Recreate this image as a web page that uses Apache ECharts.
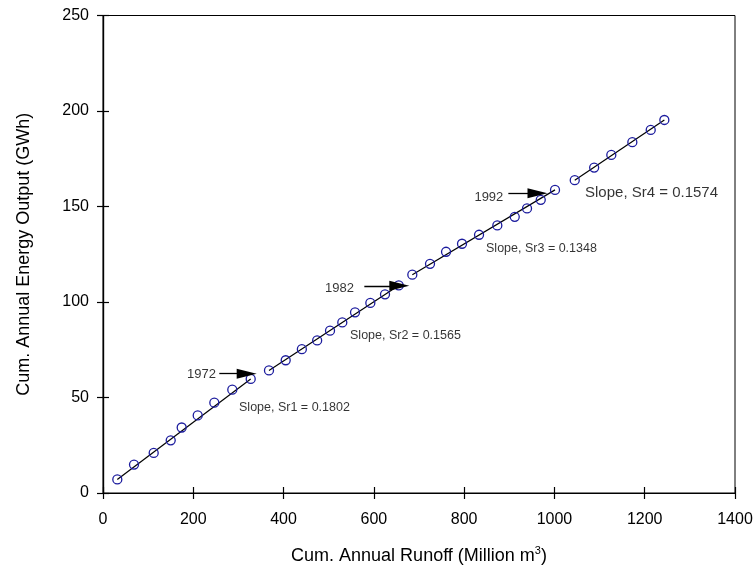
<!DOCTYPE html>
<html>
<head>
<meta charset="utf-8">
<title>Cumulative energy vs runoff</title>
<script src="https://cdn.jsdelivr.net/npm/echarts@6/dist/echarts.min.js"></script>
<style>
  html, body { margin: 0; padding: 0; background: #ffffff; }
  #chart { width: 756px; height: 572px; }
</style>
</head>
<body>
<div id="chart"></div>
<script>
// Double-mass curve: cumulative annual runoff (x) vs cumulative energy output (y),
// split into four periods separated at 1972, 1982 and 1992.
const runoff1964to1972 = [31.7, 68.7, 112.3, 150.0, 174.3, 209.8, 246.6, 286.4, 327.2];
const energy1964to1972 = [7.1, 14.9, 21.0, 27.6, 34.3, 40.6, 47.3, 54.1, 59.7];

const runoff1973to1982 = [367.7, 404.7, 440.5, 474.4, 502.9, 530.1, 558.3, 592.2, 624.7, 655.1];
const energy1973to1982 = [64.2, 69.5, 75.3, 79.9, 85.0, 89.3, 94.6, 99.5, 104.0, 108.7];

const runoff1983to1992 = [685.2, 724.4, 759.9, 795.3, 833.0, 873.5, 912.1, 939.3, 969.7, 1001.3];
const energy1983to1992 = [114.3, 120.0, 126.3, 130.5, 135.2, 140.1, 144.6, 149.0, 153.5, 158.7];

const runoff1993to1998 = [1045.0, 1088.0, 1126.0, 1172.6, 1213.3, 1243.5];
const energy1993to1998 = [163.8, 170.4, 177.0, 183.7, 190.1, 195.3];

const xTicks = [0, 200, 400, 600, 800, 1000, 1200, 1400];
const yTicks = [0, 50, 100, 150, 200, 250];

const breakYears = ['1972', '1982', '1992'];
const slopeLabels = ['Slope, Sr1 = 0.1802', 'Slope, Sr2 = 0.1565', 'Slope, Sr3 = 0.1348', 'Slope, Sr4 = 0.1574'];

// Annotation anchors in data units: [tail x, tip x, y] for arrows
const yearLabelAnchors = [[250.3, 62.3], [556.0, 107.0], [886.8, 154.8]];
const arrowSpans = [[257.6, 340.5, 62.5], [578.9, 678.6, 108.5], [897.9, 984.7, 156.9]];
const slopeAnchors = [[301.3, 44.6], [547.2, 82.5], [848.5, 127.9], [1067.8, 157.3]];

const FONT = '"Liberation Sans", Arial, sans-serif';
const MARK = '#1c1c9e';

const GRID = { left: 103, right: 21, top: 15.5, bottom: 78.5 };
const CHART_W = 756;
const HEAD_LEN = 20;   // arrow head length, px
const HEAD_W = 10;     // arrow head width, px
// markLine places the head centred on the end point, so pull the end back by half a head
const xUnitsPerPx = (xTicks[xTicks.length - 1] - xTicks[0]) / (CHART_W - GRID.left - GRID.right);
const headShift = (HEAD_LEN / 2) * xUnitsPerPx;

const periods = [
  { name: '1964-1972', x: runoff1964to1972, y: energy1964to1972 },
  { name: '1973-1982', x: runoff1973to1982, y: energy1973to1982 },
  { name: '1983-1992', x: runoff1983to1992, y: energy1983to1992 },
  { name: '1993-1998', x: runoff1993to1998, y: energy1993to1998 }
];

const series = [];
periods.forEach(p => {
  const pts = p.x.map((v, i) => [v, p.y[i]]);
  // straight line across the period, first point to last point
  series.push({
    type: 'line',
    name: p.name + ' line',
    data: [pts[0], pts[pts.length - 1]],
    showSymbol: false,
    symbol: 'none',
    lineStyle: { color: '#000000', width: 1.2 },
    silent: true,
    z: 2
  });
  // hollow markers: the line stays visible through them
  series.push({
    type: 'scatter',
    name: p.name,
    data: pts,
    symbol: 'circle',
    symbolSize: 9,
    itemStyle: { color: 'rgba(0,0,0,0)', borderColor: MARK, borderWidth: 1.3, opacity: 1 },
    z: 3
  });
});

// Year labels with arrows
series.push({
  type: 'scatter',
  name: 'years',
  data: yearLabelAnchors.map((a, i) => ({ value: a, name: breakYears[i] })),
  symbolSize: 0,
  silent: true,
  label: {
    show: true,
    position: 'left',
    distance: 0,
    formatter: p => p.name,
    fontFamily: FONT,
    fontSize: 13,
    color: '#000000'
  },
  markLine: {
    silent: true,
    symbol: ['none', 'triangle'],
    symbolSize: [HEAD_W, HEAD_LEN],
    label: { show: false },
    lineStyle: { color: '#000000', width: 1.3, type: 'solid' },
    itemStyle: { color: '#000000' },
    emphasis: { disabled: true },
    data: arrowSpans.map(s => [
      { coord: [s[0], s[2]] },
      { coord: [s[1] - headShift, s[2]] }
    ])
  },
  z: 4
});

// Slope labels
series.push({
  type: 'scatter',
  name: 'slopes',
  data: slopeAnchors.map((a, i) => ({
    value: a,
    name: slopeLabels[i],
    label: { fontSize: i === 3 ? 15 : 12.5 }
  })),
  symbolSize: 0,
  silent: true,
  label: {
    show: true,
    position: 'right',
    distance: 0,
    formatter: p => p.name,
    fontFamily: FONT,
    color: '#000000'
  },
  z: 4
});

const tickLabelStyle = { fontFamily: FONT, fontSize: 16, color: '#000000', formatter: v => String(v) };
const axisLineStyle = { show: true, onZero: false, lineStyle: { color: '#000000', width: 1.2 } };

const option = {
  animation: false,
  backgroundColor: '#ffffff',
  grid: Object.assign({ show: true, borderColor: '#000000', borderWidth: 1, containLabel: false }, GRID),
  xAxis: [
    {
      type: 'value', min: xTicks[0], max: xTicks[xTicks.length - 1], interval: xTicks[1] - xTicks[0],
      position: 'bottom',
      axisLine: axisLineStyle,
      axisTick: { inside: false, length: 6, lineStyle: { color: '#000000', width: 1.2 } },
      axisLabel: Object.assign({ margin: 19 }, tickLabelStyle),
      splitLine: { show: false },
      name: 'Cum. Annual Runoff (Million m{sup|3})',
      nameLocation: 'middle',
      nameGap: 52,
      nameTextStyle: {
        fontFamily: FONT, fontSize: 18, color: '#000000', lineHeight: 22,
        rich: { sup: { fontFamily: FONT, fontSize: 11, verticalAlign: 'top', lineHeight: 22 } }
      }
    },
    {
      // second bottom axis carries the inward half of each tick
      type: 'value', min: xTicks[0], max: xTicks[xTicks.length - 1], interval: xTicks[1] - xTicks[0],
      position: 'bottom',
      offset: 0,
      axisLine: axisLineStyle,
      axisTick: { show: true, inside: true, length: 6, lineStyle: { color: '#000000', width: 1.2 } },
      axisLabel: { show: false },
      splitLine: { show: false }
    }
  ],
  yAxis: [
    {
      type: 'value', min: yTicks[0], max: yTicks[yTicks.length - 1], interval: yTicks[1] - yTicks[0],
      position: 'left',
      axisLine: axisLineStyle,
      axisTick: { show: true, inside: false, length: 6, lineStyle: { color: '#000000', width: 1.2 } },
      axisLabel: Object.assign({ margin: 14 }, tickLabelStyle),
      splitLine: { show: false },
      name: 'Cum. Annual Energy Output (GWh)',
      nameLocation: 'middle',
      nameGap: 70,
      nameTextStyle: { fontFamily: FONT, fontSize: 18, color: '#000000' }
    },
    {
      // second left axis carries the inward half of each tick
      type: 'value', min: yTicks[0], max: yTicks[yTicks.length - 1], interval: yTicks[1] - yTicks[0],
      position: 'left',
      offset: 0,
      axisLine: axisLineStyle,
      axisTick: { show: true, inside: true, length: 6, lineStyle: { color: '#000000', width: 1.2 } },
      axisLabel: { show: false },
      splitLine: { show: false }
    }
  ],
  series: series
};

const chart = echarts.init(document.getElementById('chart'), null, { renderer: 'canvas' });
chart.setOption(option);
</script>
</body>
</html>
